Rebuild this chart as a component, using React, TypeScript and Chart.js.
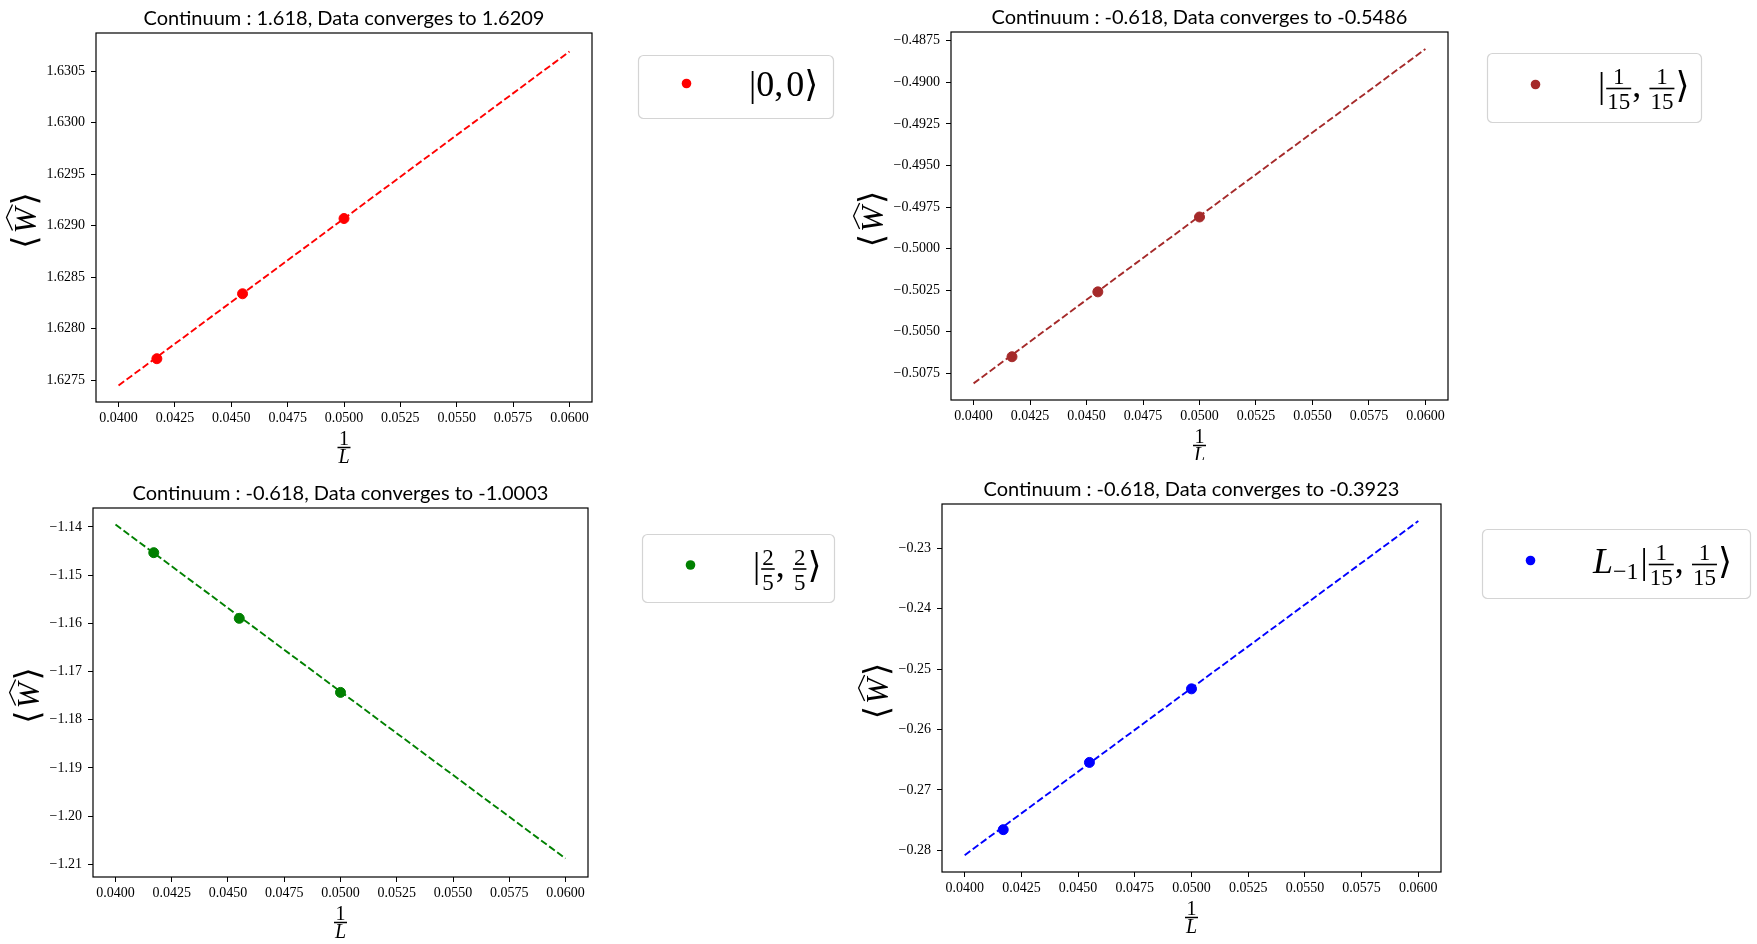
import React, { useEffect, useRef } from 'react';
import { Chart, registerables } from 'chart.js';

Chart.register(...registerables);

const SERIF = "'Liberation Serif', 'DejaVu Serif', 'DejaVu Sans', serif";
const SANS = "Lato, 'Open Sans', sans-serif";

// 1/L for L = 24, 22, 20
const invL = [0.0417, 0.0455, 0.05];
const fitX = [0.04, 0.06];
const xTicks = [0.04, 0.0425, 0.045, 0.0475, 0.05, 0.0525, 0.055, 0.0575, 0.06];
const xRange = [0.039, 0.061];

// |0,0>
const vacW = [1.62771, 1.62834, 1.62907];
const vacFit = [1.62745, 1.63069];
const vacTicks = [1.6275, 1.628, 1.6285, 1.629, 1.6295, 1.63, 1.6305];
const vacRange = [1.62729, 1.63087];

// |1/15,1/15>
const epsW = [-0.5065, -0.5026, -0.4981];
const epsFit = [-0.5081, -0.488];
const epsTicks = [-0.5075, -0.505, -0.5025, -0.5, -0.4975, -0.495, -0.4925, -0.49, -0.4875];
const epsRange = [-0.5091, -0.48698];

// |2/5,2/5>
const sigW = [-1.14533, -1.15896, -1.17433];
const sigFit = [-1.1395, -1.2088];
const sigTicks = [-1.21, -1.2, -1.19, -1.18, -1.17, -1.16, -1.15, -1.14];
const sigRange = [-1.21264, -1.13606];

// L_{-1}|1/15,1/15>
const descW = [-0.27658, -0.26545, -0.25327];
const descFit = [-0.2808, -0.2255];
const descTicks = [-0.28, -0.27, -0.26, -0.25, -0.24, -0.23];
const descRange = [-0.28359, -0.22267];

type Seg =
  | { kind: 'txt'; s: string; italic?: boolean }
  | { kind: 'sub'; s: string }
  | { kind: 'frac'; n: string; d: string };

const fmt = (v: number, dp: number) => v.toFixed(dp).replace('-', '\u2212');

const panels = [
  {
    title: 'Continuum : 1.618, Data converges to 1.6209',
    color: '#ff0000', ys: vacW, fit: vacFit, ticks: vacTicks, range: vacRange, dp: 4,
    legend: [{ kind: 'txt', s: '|0,\u200a0\u27e9' }] as Seg[],
    box: { left: 0, top: 0, w: 842, h: 472 },
    area: { l: 96, t: 33, r: 592, b: 402 },
    leg: { x: 638, y: 55, w: 195, h: 63 },
  },
  {
    title: 'Continuum : -0.618, Data converges to -0.5486',
    color: '#a52a2a', ys: epsW, fit: epsFit, ticks: epsTicks, range: epsRange, dp: 4,
    legend: [
      { kind: 'txt', s: '|' }, { kind: 'frac', n: '1', d: '15' }, { kind: 'txt', s: ',\u2009' },
      { kind: 'frac', n: '1', d: '15' }, { kind: 'txt', s: '\u27e9' },
    ] as Seg[],
    box: { left: 842, top: 0, w: 915, h: 472 },
    area: { l: 109, t: 32, r: 606, b: 400 },
    leg: { x: 645, y: 53, w: 214, h: 69 },
  },
  {
    title: 'Continuum : -0.618, Data converges to -1.0003',
    color: '#008000', ys: sigW, fit: sigFit, ticks: sigTicks, range: sigRange, dp: 2,
    legend: [
      { kind: 'txt', s: '|' }, { kind: 'frac', n: '2', d: '5' }, { kind: 'txt', s: ',\u2009' },
      { kind: 'frac', n: '2', d: '5' }, { kind: 'txt', s: '\u27e9' },
    ] as Seg[],
    box: { left: 0, top: 472, w: 842, h: 472 },
    area: { l: 93, t: 36, r: 588, b: 405 },
    leg: { x: 642, y: 62, w: 192, h: 68 },
  },
  {
    title: 'Continuum : -0.618, Data converges to -0.3923',
    color: '#0000ff', ys: descW, fit: descFit, ticks: descTicks, range: descRange, dp: 2,
    legend: [
      { kind: 'txt', s: 'L', italic: true }, { kind: 'sub', s: '\u22121' }, { kind: 'txt', s: '|' },
      { kind: 'frac', n: '1', d: '15' }, { kind: 'txt', s: ',\u2009' },
      { kind: 'frac', n: '1', d: '15' }, { kind: 'txt', s: '\u27e9' },
    ] as Seg[],
    box: { left: 842, top: 460, w: 915, h: 484 },
    area: { l: 100, t: 44, r: 599, b: 412 },
    leg: { x: 640, y: 69, w: 268, h: 69 },
  },
];

type Panel = (typeof panels)[number];

const segWidth = (ctx: CanvasRenderingContext2D, g: Seg) => {
  if (g.kind === 'txt') {
    ctx.font = `${g.italic ? 'italic ' : ''}36px ${SERIF}`;
    return ctx.measureText(g.s).width;
  }
  if (g.kind === 'sub') {
    ctx.font = `24px ${SERIF}`;
    return ctx.measureText(g.s).width + 2;
  }
  ctx.font = `23px ${SERIF}`;
  return Math.max(ctx.measureText(g.n).width, ctx.measureText(g.d).width) + 4;
};

const makeDecor = (p: Panel) => ({
  id: 'decor',
  afterDraw(chart: Chart) {
    const { ctx, chartArea: a } = chart;
    ctx.save();
    ctx.fillStyle = '#000';
    ctx.strokeStyle = '#000';

    // axes frame
    ctx.lineWidth = 1.2;
    ctx.strokeRect(a.left, a.top, a.right - a.left, a.bottom - a.top);

    // title
    const cx = (a.left + a.right) / 2;
    ctx.font = `20px ${SANS}`;
    ctx.textAlign = 'center';
    ctx.textBaseline = 'alphabetic';
    ctx.fillText(p.title, cx, a.top - 8.5);

    // x label: 1 / L
    ctx.font = `20px ${SERIF}`;
    ctx.fillText('1', cx, a.bottom + 43);
    ctx.lineWidth = 1.5;
    ctx.beginPath();
    ctx.moveTo(cx - 6.5, a.bottom + 45.5);
    ctx.lineTo(cx + 6.5, a.bottom + 45.5);
    ctx.stroke();
    ctx.font = `italic 20px ${SERIF}`;
    ctx.fillText('L', cx, a.bottom + 61);

    // y label: <W^>, drawn rotated
    ctx.font = `14px ${SERIF}`;
    const maxW = Math.max(...p.ticks.map((v) => ctx.measureText(fmt(v, p.dp)).width));
    const labelRight = a.left - 11 - maxW - 3;
    const brFont = `34px ${SERIF}`;
    const wFont = `italic 31px ${SERIF}`;
    ctx.font = brFont;
    const bw = ctx.measureText('\u27e8').width;
    ctx.font = wFont;
    const ww = ctx.measureText('W').width;
    const total = bw * 2 + ww + 4;
    ctx.translate(labelRight - 8, (a.top + a.bottom) / 2 + 3);
    ctx.rotate(-Math.PI / 2);
    ctx.textAlign = 'left';
    ctx.textBaseline = 'alphabetic';
    let ox = -total / 2;
    ctx.font = brFont;
    ctx.fillText('\u27e8', ox, 0);
    ox += bw + 2;
    ctx.font = wFont;
    ctx.fillText('W', ox, 0);
    ctx.lineWidth = 1.3;
    ctx.beginPath();
    ctx.moveTo(ox + 3, -23);
    ctx.lineTo(ox + ww / 2 + 3, -29);
    ctx.lineTo(ox + ww + 3, -23);
    ctx.stroke();
    ox += ww + 2;
    ctx.font = brFont;
    ctx.fillText('\u27e9', ox, 0);
    ctx.setTransform(chart.currentDevicePixelRatio, 0, 0, chart.currentDevicePixelRatio, 0, 0);

    // legend
    const { x: lx, y: ly, w: lw, h: lh } = p.leg;
    const cy = ly + lh / 2;
    ctx.beginPath();
    ctx.roundRect(lx + 0.5, ly + 0.5, lw, lh, 5);
    ctx.fillStyle = 'rgba(255,255,255,0.8)';
    ctx.fill();
    ctx.strokeStyle = '#d4d4d4';
    ctx.lineWidth = 1.2;
    ctx.stroke();
    ctx.fillStyle = p.color;
    ctx.beginPath();
    ctx.arc(lx + 48.5, cy - 3, 4.8, 0, Math.PI * 2);
    ctx.fill();

    ctx.fillStyle = '#000';
    ctx.strokeStyle = '#000';
    ctx.textAlign = 'left';
    ctx.textBaseline = 'alphabetic';
    const base = cy + 9;
    let tx = lx + 111;
    p.legend.forEach((g) => {
      const w = segWidth(ctx, g);
      if (g.kind === 'txt') {
        ctx.font = `${g.italic ? 'italic ' : ''}36px ${SERIF}`;
        ctx.fillText(g.s, tx, base);
      } else if (g.kind === 'sub') {
        ctx.font = `24px ${SERIF}`;
        ctx.fillText(g.s, tx, base + 6);
      } else {
        ctx.font = `23px ${SERIF}`;
        const bar = cy + 1;
        ctx.textAlign = 'center';
        ctx.fillText(g.n, tx + w / 2, bar - 4.5);
        ctx.fillText(g.d, tx + w / 2, bar + 20.5);
        ctx.textAlign = 'left';
        ctx.lineWidth = 1.6;
        ctx.beginPath();
        ctx.moveTo(tx + 1, bar);
        ctx.lineTo(tx + w - 1, bar);
        ctx.stroke();
      }
      tx += w;
    });
    ctx.restore();
  },
});

const PanelChart = ({ p }: { p: Panel }) => {
  const canvasRef = useRef<HTMLCanvasElement>(null);
  const chartRef = useRef<Chart | null>(null);

  useEffect(() => {
    if (chartRef.current) chartRef.current.destroy();
    const { box, area } = p;
    const tickFont = { family: SERIF, size: 14 };

    chartRef.current = new Chart(canvasRef.current!, {
      type: 'scatter',
      data: {
        datasets: [
          {
            data: invL.map((x, i) => ({ x, y: p.ys[i] })),
            backgroundColor: p.color,
            borderColor: p.color,
            pointRadius: 5,
            pointHoverRadius: 5,
            showLine: false,
          },
          {
            data: fitX.map((x, i) => ({ x, y: p.fit[i] })),
            borderColor: p.color,
            borderWidth: 1.9,
            borderDash: [7, 3],
            pointRadius: 0,
            showLine: true,
            fill: false,
          },
        ],
      },
      options: {
        animation: false,
        responsive: false,
        events: [],
        layout: { padding: { left: 0, top: area.t, right: box.w - area.r, bottom: 0 } },
        plugins: { legend: { display: false }, title: { display: false }, tooltip: { enabled: false } },
        scales: {
          x: {
            type: 'linear',
            min: xRange[0],
            max: xRange[1],
            afterBuildTicks: (s: any) => { s.ticks = xTicks.map((value) => ({ value })); },
            afterFit: (s: any) => { s.height = box.h - area.b; },
            ticks: {
              font: tickFont, color: '#000', padding: 3, autoSkip: false, maxRotation: 0,
              callback: (v: any) => Number(v).toFixed(4),
            },
            grid: { display: true, drawOnChartArea: false, drawTicks: true, tickLength: 5, color: '#000', lineWidth: 1 },
            border: { display: false },
          },
          y: {
            type: 'linear',
            min: p.range[0],
            max: p.range[1],
            afterBuildTicks: (s: any) => { s.ticks = p.ticks.map((value) => ({ value })); },
            afterFit: (s: any) => { s.width = area.l; },
            ticks: {
              font: tickFont, color: '#000', padding: 6, autoSkip: false,
              callback: (v: any) => fmt(Number(v), p.dp),
            },
            grid: { display: true, drawOnChartArea: false, drawTicks: true, tickLength: 5, color: '#000', lineWidth: 1 },
            border: { display: false },
          },
        },
      },
      plugins: [makeDecor(p)],
    } as any);

    return () => {
      if (chartRef.current) {
        chartRef.current.destroy();
        chartRef.current = null;
      }
    };
  }, [p]);

  return (
    <canvas
      ref={canvasRef}
      width={p.box.w}
      height={p.box.h}
      style={{
        position: 'absolute', left: p.box.left, top: p.box.top,
        width: p.box.w, height: p.box.h, background: '#fff',
      }}
    />
  );
};

const App = () => (
  <div style={{ position: 'absolute', left: 0, top: 0, width: 1757, height: 944, background: '#fff', overflow: 'hidden' }}>
    {panels.map((p, i) => <PanelChart key={i} p={p} />)}
  </div>
);

export default App;
